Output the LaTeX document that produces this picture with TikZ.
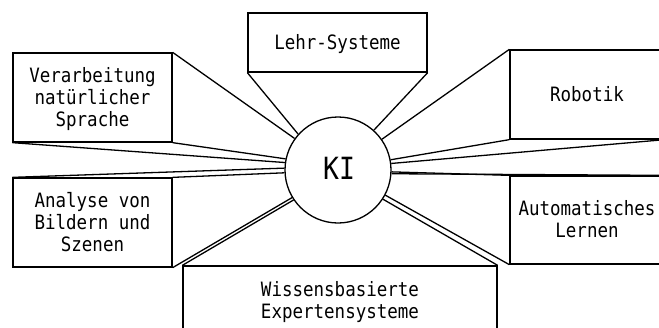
\documentclass[tikz,border=0pt]{standalone}
\usepackage{graphicx}
\usepackage{fontspec}
\setmonofont{DejaVu Sans Mono}
\newcommand{\tx}[1]{\raisebox{-2.5pt}[\height][\depth]{\scalebox{1}[1.13]{\begin{tabular}{@{}c@{}}#1\end{tabular}}}}
\begin{document}
\begin{tikzpicture}[x=1pt,y=-1pt,
  lw/.style={line width=1.3pt},
  box/.style={draw,lw,rectangle,inner sep=0pt,align=center,
    font=\ttfamily\fontsize{17.5}{19.5}\selectfont},
  ray/.style={lw}]
\useasboundingbox (0,0) rectangle (659,327);
\clip (0,0) rectangle (659,327);
\node[draw,lw,circle,minimum size=106pt,inner sep=0pt] (ki) at (338,170) {};
\node[font=\ttfamily\fontsize{30}{30}\selectfont] (kit) at (339,168) {\scalebox{0.88}[1.02]{KI}};
\node[box,minimum width=179pt,minimum height=59pt] (lehr) at (337.5,42.5) {\tx{Lehr-Systeme}};
\node[box,minimum width=159pt,minimum height=89pt] (verb) at (92.5,97.5) {\tx{Verarbeitung\\natürlicher\\Sprache}};
\node[box,minimum width=159pt,minimum height=89pt] (anal) at (92.5,222.5) {\tx{Analyse von\\Bildern und\\Szenen}};
\node[box,minimum width=154pt,minimum height=89pt] (robo) at (587,94.5) {\tx{Robotik}};
\node[box,minimum width=154pt,minimum height=88pt] (auto) at (587,220) {\tx{Automatisches\\Lernen}};
\node[box,minimum width=314pt,minimum height=70pt] (wiss) at (340,301) {\tx{Wissensbasierte\\Expertensysteme}};
% rays
\draw[ray] (lehr.south west) -- (ki.138);
\draw[ray] (lehr.south east) -- (ki.48);
\draw[ray] (verb.north east) -- (ki.144);
\draw[ray] (verb.south east) -- (ki.168);
\draw[ray] (verb.south west) -- (ki.172);
\draw[ray] (anal.north west) -- (ki.178);
\draw[ray] (anal.north east) -- (ki.183);
\draw[ray] (anal.south east) -- (ki.211);
\draw[ray] (wiss.north west) -- (ki.214);
\draw[ray] (wiss.north east) -- (ki.327);
\draw[ray] (auto.south west) -- (ki.332);
\draw[ray] (auto.north west) -- (ki.358);
\draw[ray] (auto.north east) -- (ki.356);
\draw[ray] (robo.north west) -- (ki.35);
\draw[ray] (robo.south west) -- (ki.11);
\draw[ray] (robo.south east) -- (ki.7);
\end{tikzpicture}
\end{document}
